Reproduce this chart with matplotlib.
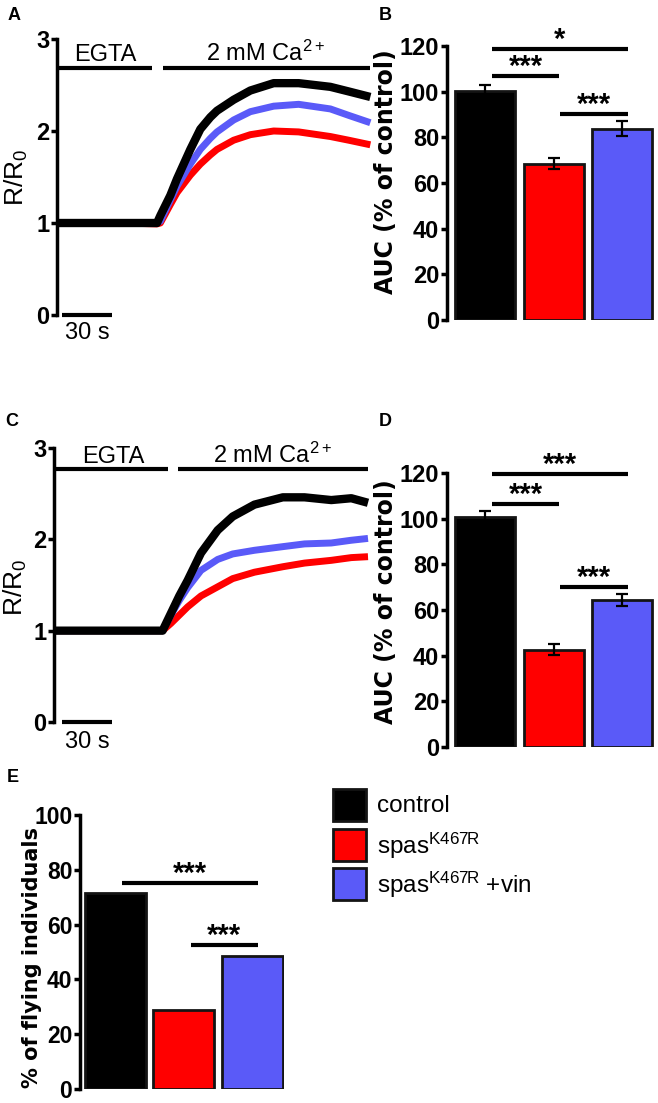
import matplotlib
matplotlib.use('Agg')
import matplotlib.pyplot as plt
from matplotlib.patches import Rectangle

# ---------------- data ----------------
groups = ['control', 'spas$^{\\mathregular{K467R}}$', 'spas$^{\\mathregular{K467R}}$ +vin']
colors = ['#000000', '#FF0000', '#5A5AF8']

# Panel A: Ca2+ imaging traces (R/R0 vs time, s)
t_a = [0, 20, 40, 60, 62, 68, 72, 80, 86, 92, 96, 106, 116, 130, 145, 164, 175, 188]
a_ctrl = [1.0, 1.0, 1.0, 1.0, 1.08, 1.30, 1.48, 1.80, 2.02, 2.15, 2.22, 2.34, 2.44, 2.52, 2.52, 2.48, 2.43, 2.37]
a_spas = [1.0, 1.0, 1.0, 0.99, 1.0, 1.20, 1.33, 1.52, 1.64, 1.74, 1.80, 1.90, 1.96, 2.00, 1.99, 1.94, 1.90, 1.85]
a_vin = [1.0, 1.0, 1.0, 1.0, 1.02, 1.25, 1.40, 1.64, 1.80, 1.92, 1.99, 2.12, 2.21, 2.27, 2.29, 2.24, 2.17, 2.09]

# Panel C: Ca2+ imaging traces
t_c = [0, 20, 40, 60, 65, 70, 75, 80, 88, 98, 107, 120, 137, 150, 166, 178, 188]
c_ctrl = [1.0, 1.0, 1.0, 1.0, 1.0, 1.19, 1.38, 1.55, 1.85, 2.10, 2.25, 2.38, 2.46, 2.46, 2.43, 2.45, 2.40]
c_spas = [1.0, 1.0, 1.0, 1.0, 1.0, 1.08, 1.17, 1.26, 1.38, 1.48, 1.57, 1.64, 1.70, 1.74, 1.77, 1.80, 1.81]
c_vin = [1.0, 1.0, 1.0, 1.0, 1.0, 1.17, 1.33, 1.47, 1.66, 1.78, 1.84, 1.88, 1.92, 1.95, 1.96, 1.99, 2.01]

# Panels B and D: AUC (% of control), mean and SEM
b_auc = [100.3, 68.5, 83.8]
b_sem = [2.5, 2.5, 3.3]
d_auc = [100.7, 42.6, 64.5]
d_sem = [2.7, 2.4, 2.7]

# Panel E: % of flying individuals
e_fly = [71.6, 28.7, 48.4]

# significance brackets: (group i, group j, height, label)
b_sig = [(0, 2, 118.8, '*'), (0, 1, 106.7, '***'), (1, 2, 90.1, '***')]
d_sig = [(0, 2, 119.4, '***'), (0, 1, 106.6, '***'), (1, 2, 70.1, '***')]
e_sig = [(0, 2, 75.3, '***'), (1, 2, 52.7, '***')]

b_ticks = [0, 20, 40, 60, 80, 100, 120]
e_ticks = [0, 20, 40, 60, 80, 100]
trace_ticks = [0, 1, 2, 3]

# ---------------- style ----------------
W, H = 658, 1103
plt.rcParams['font.family'] = ['Liberation Sans', 'DejaVu Sans']
plt.rcParams['mathtext.fontset'] = 'custom'
plt.rcParams['mathtext.rm'] = 'Liberation Sans'
plt.rcParams['mathtext.it'] = 'Liberation Sans'
plt.rcParams['mathtext.bf'] = 'Liberation Sans:bold'

fig = plt.figure(figsize=(W / 100, H / 100), dpi=100)
fig.patch.set_facecolor('white')


def add_ax(l, t, r, b):
    return fig.add_axes([l / W, 1 - b / H, (r - l) / W, (b - t) / H])


def ftext(px, py, s, **kw):
    fig.text(px / W, 1 - py / H, s, **kw)


def style(ax, ticks, size=17):
    for s in ['top', 'right', 'bottom']:
        ax.spines[s].set_visible(False)
    ax.spines['left'].set_linewidth(2.5)
    ax.set_yticks(ticks)
    ax.tick_params(axis='y', length=4, width=2.5, pad=1.5, labelsize=size)
    ax.set_xticks([])
    for lab in ax.get_yticklabels():
        lab.set_fontweight('bold')
    ax.patch.set_alpha(0)


def trace_panel(ax, t, series, egta_end, ca_start, bar_y, egta_x, ca_x, text_y, sb):
    # red, blue, then black on top
    for idx, lw in [(1, 5), (2, 5), (0, 6)]:
        ax.plot(t, series[idx], color=colors[idx], lw=lw, solid_capstyle='butt',
                solid_joinstyle='round', clip_on=False, zorder=3 if idx == 0 else 2)
    ax.set_xlim(0, 189)
    ax.set_ylim(0, 3)
    style(ax, trace_ticks)
    ax.plot([0, egta_end], [bar_y, bar_y], color='black', lw=3, clip_on=False, solid_capstyle='butt')
    ax.plot([ca_start, 188], [bar_y, bar_y], color='black', lw=3, clip_on=False, solid_capstyle='butt')
    ax.text(egta_x, text_y, 'EGTA', ha='center', va='baseline', fontsize=17)
    ax.text(ca_x, text_y, '2 mM Ca$^{\\mathregular{2+}}$', ha='center', va='baseline', fontsize=17)
    ax.plot(sb, [0, 0], color='black', lw=3, clip_on=False, solid_capstyle='butt')


def bar_panel(ax, vals, sem, sig, ticks, ymax, width, size=17):
    x = list(range(len(vals)))
    ax.bar(x, vals, width=width, color=colors, edgecolor='#141414', linewidth=2, zorder=2)
    if sem is not None:
        ax.errorbar(x, vals, yerr=sem, fmt='none', ecolor='black', elinewidth=1.6,
                    capsize=4.5, capthick=1.6, zorder=3)
    ax.set_ylim(0, ymax)
    style(ax, ticks, size)
    for i, j, y, lab in sig:
        ax.plot([i + 0.1, j + 0.08], [y, y], color='black', lw=3, clip_on=False,
                solid_capstyle='butt')
        ax.text((i + j) / 2 + 0.09, y + ymax * 0.004, lab, ha='center', va='baseline',
                fontsize=21, fontweight='bold')


# ---------------- Panel A ----------------
axA = add_ax(57, 39, 372, 315)
trace_panel(axA, t_a, [a_ctrl, a_spas, a_vin], egta_end=57, ca_start=63.6, bar_y=2.69,
            egta_x=28.8, ca_x=125, text_y=2.76, sb=[3, 33])
ftext(16, 177, 'R/R$_{\\mathregular{0}}$', rotation=90, ha='center', va='center', fontsize=19)
ftext(87, 322, '30 s', ha='center', va='top', fontsize=17)

# ---------------- Panel B ----------------
axB = add_ax(447, 46, 655, 320)
axB.set_xlim(-0.555, 2.48)
bar_panel(axB, b_auc, b_sem, b_sig, b_ticks, 120, 0.876)
ftext(386, 172, 'AUC (% of control)', rotation=90, ha='center', va='center', fontsize=17,
      fontweight='bold', family=['DejaVu Sans'])

# ---------------- Panel C ----------------
axC = add_ax(54, 448, 368, 722)
trace_panel(axC, t_c, [c_ctrl, c_spas, c_vin], egta_end=68.4, ca_start=74.4, bar_y=2.77,
            egta_x=35.4, ca_x=131, text_y=2.84, sb=[4.8, 34.8])
axC.set_xlim(0, 188)
ftext(15, 587, 'R/R$_{\\mathregular{0}}$', rotation=90, ha='center', va='center', fontsize=19)
ftext(87, 731, '30 s', ha='center', va='top', fontsize=17)

# ---------------- Panel D ----------------
axD = add_ax(447, 473, 655, 747)
axD.set_xlim(-0.555, 2.48)
bar_panel(axD, d_auc, d_sem, d_sig, b_ticks, 120, 0.876)
ftext(386, 602, 'AUC (% of control)', rotation=90, ha='center', va='center', fontsize=17,
      fontweight='bold', family=['DejaVu Sans'])

# ---------------- Panel E ----------------
axE = add_ax(80, 815, 284, 1089)
axE.set_xlim(-0.515, 2.46)
bar_panel(axE, e_fly, None, e_sig, e_ticks, 100, 0.89, size=16.5)
ftext(32, 958, '% of flying individuals', rotation=90, ha='center', va='center', fontsize=15,
      fontweight='bold', family=['DejaVu Sans'])

# ---------------- Legend ----------------
sw_top = [789, 829, 868]
for k, (lab, c) in enumerate(zip(groups, colors)):
    top = sw_top[k]
    fig.add_artist(Rectangle((333 / W, 1 - (top + 32) / H), 33 / W, 32 / H,
                             transform=fig.transFigure, facecolor=c,
                             edgecolor='#141414', linewidth=2))
    ftext(377, top + 17, lab, ha='left', va='center', fontsize=17.5)

# ---------------- panel letters ----------------
for letter, px, py in [('A', 14, 16), ('B', 385, 16), ('C', 12, 421), ('D', 385, 421), ('E', 13, 778)]:
    ftext(px, py, letter, ha='center', va='center', fontsize=13, fontweight='bold')

fig.savefig('out.png', dpi=100, facecolor='white')
